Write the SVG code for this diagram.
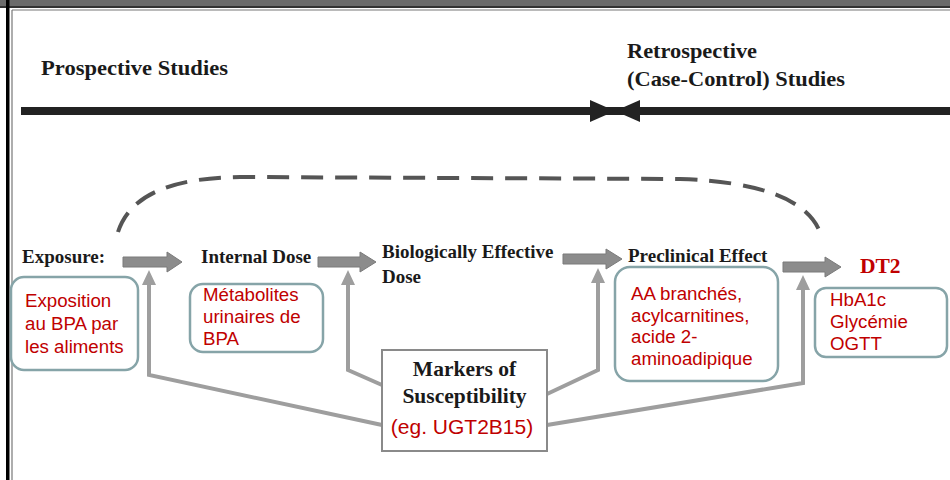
<svg xmlns="http://www.w3.org/2000/svg" width="950" height="480" viewBox="0 0 950 480">
<style>
.ser{font-family:"Liberation Serif","Times New Roman",serif;font-weight:bold;fill:#1a1a1a}
.red{font-family:"Liberation Sans",Arial,sans-serif;fill:#c00000;font-size:18.7px}
.box{fill:#fff;stroke:#86a4a8;stroke-width:2.5}
.blk{fill:#8c8c8c;stroke:#7a7a7a;stroke-width:1}
.con{fill:none;stroke:#9e9e9e;stroke-width:4;stroke-linejoin:miter}
.ah{fill:#9e9e9e}
</style>
<rect width="950" height="480" fill="#fff"/>
<g id="frame">
<rect x="0" y="0" width="950" height="6" fill="#6b6b6b"/>
<rect x="0" y="6" width="950" height="2" fill="#333"/>
<rect x="6" y="0" width="3.5" height="480" fill="#000"/>
<line x1="12" y1="10" x2="12" y2="480" stroke="#777" stroke-width="1.2"/>
<line x1="12" y1="10" x2="950" y2="10" stroke="#777" stroke-width="1.2"/>
</g>
<g id="timeline">
<rect x="21" y="107" width="929" height="8" fill="#222"/>
<path d="M590,100 L615,111 L590,122 Z" fill="#222"/>
<path d="M640,100 L615,111 L640,122 Z" fill="#222"/>
<text class="ser" x="41" y="75" font-size="21" textLength="187" lengthAdjust="spacingAndGlyphs">Prospective Studies</text>
<text class="ser" x="627" y="58" font-size="21" textLength="130" lengthAdjust="spacingAndGlyphs">Retrospective</text>
<text class="ser" x="627" y="86" font-size="21" textLength="218" lengthAdjust="spacingAndGlyphs">(Case-Control) Studies</text>
</g>
<g id="connectors">
<path d="M118,232 Q135,178 240,177 L680,179 Q800,183 820,232" fill="none" stroke="#555" stroke-width="4" stroke-dasharray="22,12"/>
<path class="blk" d="M123,257 L167,257 L167,252 L182,262 L167,272 L167,267 L123,267 Z"/>
<path class="blk" d="M318,257 L360,257 L360,252 L376,262 L360,272 L360,267 L318,267 Z"/>
<path class="blk" d="M563,254 L606,254 L606,249 L622,259 L606,269 L606,264 L563,264 Z"/>
<path class="blk" d="M783,262 L825,262 L825,257 L841,267 L825,277 L825,272 L783,272 Z"/>
<polyline class="con" points="382,425 149,375 149,283"/>
<path class="ah" d="M142,285 L149,270 L156,285 Z"/>
<polyline class="con" points="382,385 348,370 348,283"/>
<path class="ah" d="M341,285 L348,270 L355,285 Z"/>
<polyline class="con" points="547,394 598,370 598,281"/>
<path class="ah" d="M591,283 L598,268 L605,283 Z"/>
<polyline class="con" points="547,425 803,383 803,288"/>
<path class="ah" d="M796,290 L803,275 L810,290 Z"/>
</g>
<g id="exposure">
<text class="ser" x="22" y="263" font-size="19">Exposure:</text>
<rect class="box" x="11" y="277" width="127" height="93" rx="13"/>
<text class="red" x="25" y="307">Exposition</text>
<text class="red" x="25" y="330">au BPA par</text>
<text class="red" x="25" y="353">les aliments</text>
</g>
<g id="internal-dose">
<text class="ser" x="201" y="263" font-size="19">Internal Dose</text>
<rect class="box" x="190" y="284" width="133" height="68" rx="13"/>
<text class="red" x="203" y="301">Métabolites</text>
<text class="red" x="203" y="323">urinaires de</text>
<text class="red" x="203" y="345">BPA</text>
</g>
<g id="biological-dose">
<text class="ser" x="382" y="258" font-size="19">Biologically Effective</text>
<text class="ser" x="382" y="283" font-size="19">Dose</text>
</g>
<g id="preclinical">
<text class="ser" x="628" y="262" font-size="19">Preclinical Effect</text>
<rect class="box" x="615" y="267" width="163" height="114" rx="15"/>
<text class="red" x="631" y="300">AA branchés,</text>
<text class="red" x="631" y="322">acylcarnitines,</text>
<text class="red" x="631" y="343">acide 2-</text>
<text class="red" x="631" y="365">aminoadipique</text>
</g>
<g id="dt2">
<text x="860" y="273" font-family="Liberation Serif,Times New Roman,serif" font-weight="bold" font-size="21.5" fill="#c00000">DT2</text>
<rect class="box" x="815" y="288" width="132" height="69" rx="11"/>
<text class="red" x="830" y="306">HbA1c</text>
<text class="red" x="830" y="328">Glycémie</text>
<text class="red" x="830" y="350">OGTT</text>
</g>
<g id="markers">
<rect x="382" y="350" width="165" height="101" fill="#fff" stroke="#8a8a8a" stroke-width="2"/>
<text class="ser" x="464.5" y="376" font-size="21.5" text-anchor="middle">Markers of</text>
<text class="ser" x="464.5" y="403" font-size="21.5" text-anchor="middle">Susceptibility</text>
<text class="red" x="462" y="434" text-anchor="middle" style="font-size:21px">(eg. UGT2B15)</text>
</g>
</svg>
